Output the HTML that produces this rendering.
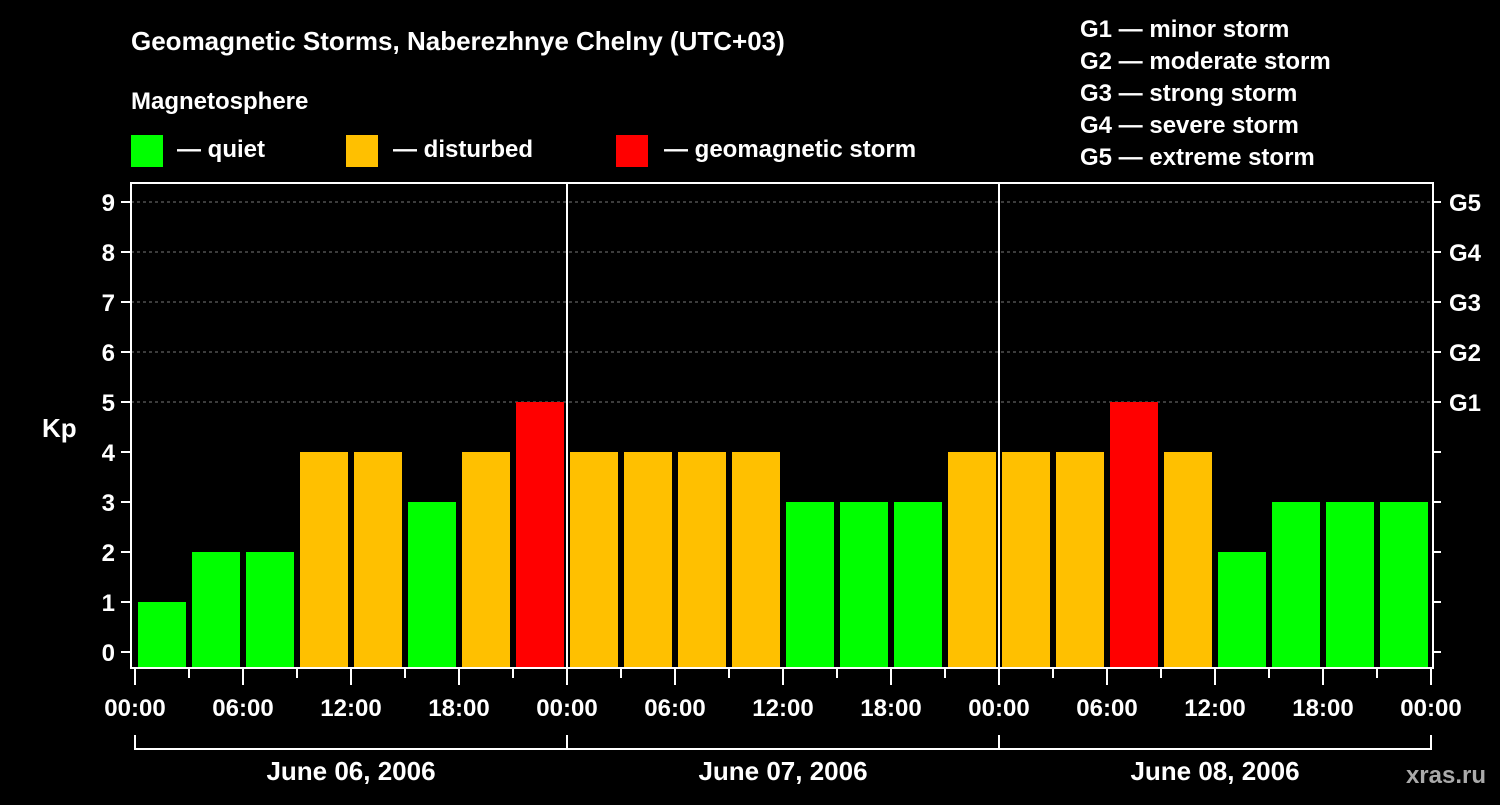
<!DOCTYPE html>
<html><head><meta charset="utf-8"><style>
body{margin:0;background:#000;width:1500px;height:800px;overflow:hidden}
svg text{font-family:"Liberation Sans",sans-serif;font-weight:bold;fill:#fff}
</style></head><body>
<svg id="c" width="1500" height="800">
<text x="131" y="50" font-size="26">Geomagnetic Storms, Naberezhnye Chelny (UTC+03)</text>
<text x="131" y="109" font-size="24">Magnetosphere</text>
<rect x="131" y="135" width="32" height="32" fill="#00ff00"/>
<text x="177" y="157" font-size="24">— quiet</text>
<rect x="346" y="135" width="32" height="32" fill="#ffc000"/>
<text x="393" y="157" font-size="24">— disturbed</text>
<rect x="616" y="135" width="32" height="32" fill="#ff0000"/>
<text x="664" y="157" font-size="24">— geomagnetic storm</text>
<g font-size="24">
<text x="1080" y="37">G1 — minor storm</text>
<text x="1080" y="69">G2 — moderate storm</text>
<text x="1080" y="101">G3 — strong storm</text>
<text x="1080" y="133">G4 — severe storm</text>
<text x="1080" y="165">G5 — extreme storm</text>
</g>
<text x="42" y="437" font-size="26">Kp</text>
<text x="1486" y="783" font-size="24" text-anchor="end" fill="#999" style="fill:#aaa">xras.ru</text>
<g id="plot"></g>
</svg>
<script>
const days=["June 06, 2006","June 07, 2006","June 08, 2006"];
const kp=[1,2,2,4,4,3,4,5, 4,4,4,4,3,3,3,4, 4,4,5,4,2,3,3,3];
const yTicks=[0,1,2,3,4,5,6,7,8,9];
const gLabels=["G1","G2","G3","G4","G5"];
const hourLabels=["00:00","06:00","12:00","18:00"];
const X0=135,DAYW=432,L=131,R=1433,T=183,B=668;
const x=i=>X0+i*DAYW/8;
const y=v=>652-v*50;
const g=document.getElementById('plot');
const NS="http://www.w3.org/2000/svg";
function mk(t,a){const e=document.createElementNS(NS,t);for(const k in a)e.setAttribute(k,a[k]);g.appendChild(e);return e;}
yTicks.forEach(v=>{
 if(v>=5){const l=mk('line',{x1:L,x2:R,y1:y(v),y2:y(v),stroke:'#777','stroke-dasharray':'3,3','stroke-width':1});
 
 }
 const t=mk('line',{x1:L-10,x2:L,y1:y(v),y2:y(v),stroke:'#fff','stroke-width':2});
 
 
 const t2=mk('line',{x1:R,x2:R+8,y1:y(v),y2:y(v),stroke:'#fff','stroke-width':2});
 
 
 const lb=mk('text',{x:L-16,y:y(v)+9,'font-size':24,'text-anchor':'end'});lb.textContent=v;
 
 
});
gLabels.forEach((s,i)=>{const lb=mk('text',{x:R+16,y:y(5+i)+9,'font-size':24});lb.textContent=s;
 
 });
kp.forEach((v,i)=>{
 const c=v>=5?'#ff0000':v>=4?'#ffc000':'#00ff00';
 const r=mk('rect',{x:x(i)+3,y:y(v),width:48,height:B-1-y(v),fill:c});
 
 
});
for(let d=1;d<days.length;d++){const l=mk('line',{x1:x(d*8),x2:x(d*8),y1:T,y2:B,stroke:'#fff','stroke-width':2});
 
 }
const fr=mk('rect',{x:L,y:T,width:R-L,height:B-T,fill:'none',stroke:'#fff','stroke-width':2});


for(let i=0;i<=24;i++){
 const long=i%2==0;
 const t=mk('line',{x1:x(i),x2:x(i),y1:B,y2:B+(long?17:10),stroke:'#fff','stroke-width':2});
 
 
 if(long){const lb=mk('text',{x:x(i),y:B+48,'font-size':24,'text-anchor':'middle'});lb.textContent=hourLabels[(i/2)%4];
 
 }
}
days.forEach((s,d)=>{
 const a=x(d*8),b=x(d*8+8);
 const p=mk('path',{d:`M${a},735V749H${b}V735`,fill:'none',stroke:'#fff','stroke-width':2});
 
 
 const lb=mk('text',{x:(a+b)/2,y:780,'font-size':26,'text-anchor':'middle'});lb.textContent=s;
 
 
});
</script>
</body></html>
